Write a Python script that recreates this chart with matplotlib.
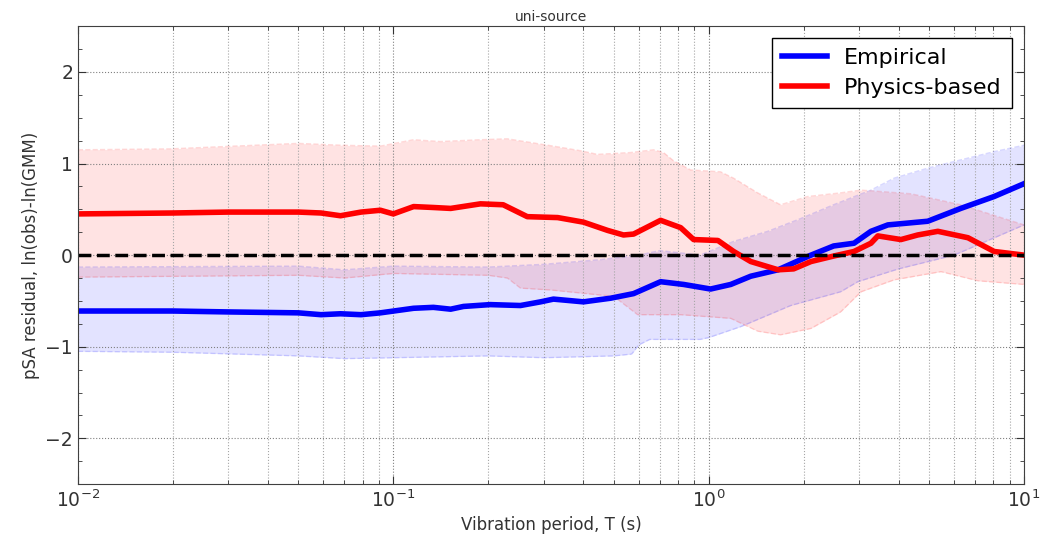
import numpy as np
import matplotlib
matplotlib.use("Agg")
import matplotlib.pyplot as plt
from matplotlib.ticker import MultipleLocator, LogLocator

# Mean residuals vs period (s)
T_emp = [0.01, 0.02, 0.03, 0.05, 0.059, 0.068, 0.079, 0.091, 0.116, 0.134, 0.152, 0.167,
         0.203, 0.253, 0.293, 0.322, 0.401, 0.489, 0.578, 0.704, 0.833, 1.014, 1.175, 1.36,
         1.66, 2.11, 2.49, 2.89, 3.27, 3.70, 4.95, 6.30, 8.04, 10.0]
mean_emp = [-0.61, -0.61, -0.62, -0.63, -0.65, -0.64, -0.65, -0.63, -0.58, -0.57, -0.59, -0.56,
            -0.54, -0.55, -0.51, -0.48, -0.51, -0.47, -0.42, -0.29, -0.32, -0.37, -0.32, -0.23,
            -0.16, 0.0, 0.10, 0.13, 0.26, 0.33, 0.37, 0.51, 0.64, 0.78]

T_phys = [0.01, 0.02, 0.03, 0.05, 0.059, 0.068, 0.079, 0.091, 0.100, 0.116, 0.134, 0.152,
          0.189, 0.223, 0.266, 0.332, 0.401, 0.478, 0.537, 0.578, 0.704, 0.815, 0.896, 1.07,
          1.2, 1.36, 1.66, 1.86, 2.11, 2.49, 2.89, 3.27, 3.44, 4.07, 4.6, 5.33, 6.64, 8.04, 10.0]
mean_phys = [0.45, 0.46, 0.47, 0.47, 0.46, 0.43, 0.47, 0.49, 0.45, 0.53, 0.52, 0.51,
             0.56, 0.55, 0.42, 0.41, 0.36, 0.27, 0.22, 0.23, 0.38, 0.30, 0.17, 0.16,
             0.04, -0.07, -0.16, -0.15, -0.07, -0.01, 0.04, 0.13, 0.21, 0.17, 0.22, 0.26, 0.19, 0.04, 0.0]

# +/- one standard deviation bounds
T_phys_hi = [0.01, 0.0196, 0.05, 0.068, 0.091, 0.116, 0.141, 0.189, 0.230, 0.272, 0.322, 0.392,
             0.444, 0.565, 0.669, 0.719, 0.774, 0.877, 1.09, 1.20, 1.43, 1.69, 2.06, 2.62,
             3.04, 4.38, 6.3, 10.0]
phys_hi = [1.15, 1.16, 1.22, 1.20, 1.19, 1.26, 1.24, 1.26, 1.27, 1.23, 1.19, 1.14,
           1.10, 1.12, 1.15, 1.12, 1.03, 0.93, 0.91, 0.84, 0.68, 0.55, 0.64, 0.68,
           0.71, 0.67, 0.55, 0.33]
T_phys_lo = [0.01, 0.05, 0.07, 0.1, 0.2, 0.23, 0.253, 0.315, 0.5, 0.595, 0.815, 1.175,
             1.43, 1.69, 2.11, 2.62, 3.04, 3.87, 5.45, 7.14, 10.0]
phys_lo = [-0.24, -0.22, -0.25, -0.20, -0.22, -0.25, -0.36, -0.38, -0.45, -0.65, -0.65, -0.69,
           -0.83, -0.87, -0.80, -0.62, -0.40, -0.27, -0.18, -0.28, -0.32]

T_emp_hi = [0.01, 0.05, 0.07, 0.1, 0.2, 0.3, 0.45, 0.6, 0.7, 0.94, 1.2, 1.54,
            1.96, 2.49, 3.27, 3.87, 4.95, 6.3, 8.04, 10.0]
emp_hi = [-0.13, -0.12, -0.16, -0.12, -0.13, -0.10, -0.05, 0.0, 0.05, 0.0, 0.15, 0.26,
          0.40, 0.55, 0.71, 0.84, 0.95, 1.04, 1.13, 1.20]
T_emp_lo = [0.01, 0.02, 0.05, 0.07, 0.1, 0.2, 0.3, 0.5, 0.57, 0.6, 0.65, 0.94,
            1.0, 1.265, 1.82, 2.62, 2.97, 4.0, 6.0, 10.0]
emp_lo = [-1.05, -1.06, -1.10, -1.13, -1.12, -1.10, -1.12, -1.10, -1.08, -0.98, -0.92, -0.92,
          -0.90, -0.78, -0.55, -0.40, -0.29, -0.15, 0.0, 0.33]


def band(ax, T_hi, hi, T_lo, lo, color):
    # common log-spaced grid so both bounds can be filled together
    Tg = np.logspace(-2, 1, 400)
    yh = np.interp(np.log10(Tg), np.log10(T_hi), hi)
    yl = np.interp(np.log10(Tg), np.log10(T_lo), lo)
    ax.fill_between(Tg, yl, yh, color=color, alpha=0.11, lw=0)
    ax.plot(T_hi, hi, '--', color=color, alpha=0.15, lw=1)
    ax.plot(T_lo, lo, '--', color=color, alpha=0.15, lw=1)


fig = plt.figure(figsize=(10.53, 5.44), dpi=100)
ax = fig.add_axes([0.074, 0.110, 0.8985, 0.842])

band(ax, T_emp_hi, emp_hi, T_emp_lo, emp_lo, 'b')
band(ax, T_phys_hi, phys_hi, T_phys_lo, phys_lo, 'r')

ax.plot(T_emp, mean_emp, color='b', lw=4, label='Empirical', solid_joinstyle='round')
ax.plot(T_phys, mean_phys, color='r', lw=4, label='Physics-based', solid_joinstyle='round')
ax.plot([0.01, 10], [0, 0], 'k--', lw=2.5)

ax.set_xscale('log')
ax.set_xlim(0.01, 10)
ax.set_ylim(-2.5, 2.5)
ax.yaxis.set_major_locator(MultipleLocator(1))
ax.yaxis.set_minor_locator(MultipleLocator(0.25))
ax.xaxis.set_minor_locator(LogLocator(base=10, subs=np.arange(2, 10)))

ax.grid(True, which='major', linestyle=':', color='0.5', lw=0.8)
ax.grid(True, which='minor', axis='x', linestyle=':', color='0.65', lw=0.8)
ax.tick_params(which='both', direction='in', top=True, right=True, labelsize=13.5, colors='0.2')
ax.tick_params(which='major', length=6)
ax.tick_params(which='minor', length=3)
for s in ax.spines.values():
    s.set_color('0.25')

ax.set_xlabel('Vibration period, T (s)', fontsize=12, color='0.2')
ax.set_ylabel('pSA residual, ln(obs)-ln(GMM)', fontsize=12, color='0.2')
ax.set_title('uni-source', fontsize=10, color='0.2', pad=4)

leg = ax.legend(loc='upper right', fontsize=16, fancybox=False, framealpha=1,
                handlelength=2.0, borderpad=0.45, labelspacing=0.45,
                bbox_to_anchor=(0.999, 0.999))
leg.get_frame().set_edgecolor('k')

fig.savefig('out.png', dpi=100)
